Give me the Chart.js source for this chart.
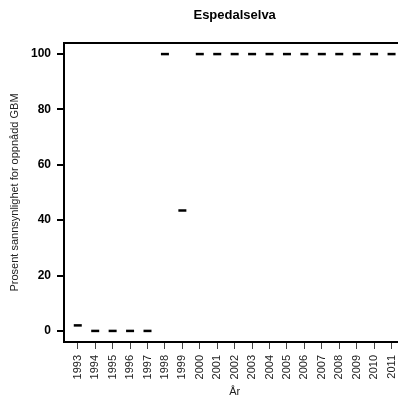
<!DOCTYPE html>
<html>
<head>
<meta charset="utf-8">
<script src="https://cdn.jsdelivr.net/npm/chart.js@4.4.0/dist/chart.umd.min.js"></script>
<style>
  html, body { margin: 0; padding: 0; background: #fff; overflow: hidden; }
  canvas { display: block; }
</style>
</head>
<body>
<canvas id="gbmChart" width="398" height="399"></canvas>
<script>
// Espedalselva - probability of reaching GBM per year

const years = [1993, 1994, 1995, 1996, 1997, 1998, 1999, 2000, 2001, 2002,
               2003, 2004, 2005, 2006, 2007, 2008, 2009, 2010, 2011];
const percent = [2, 0, 0, 0, 0, 100, 43.5, 100, 100, 100,
                 100, 100, 100, 100, 100, 100, 100, 100, 100];
const yTicks = [0, 20, 40, 60, 80, 100];

const chartTitle = 'Espedalselva';
const xTitle = 'År';
const yTitle = 'Prosent sannsynlighet for oppnådd GBM';

// x range: the plot region runs a little past the right edge of the picture
const xMin = 1992.21;
const xMax = 2011.37;
const xCentre = 1992.28 + (2011.72 - 1992.28) / 2;

// titles centred over the full plot region (like base R graphics)
const plotTitles = {
    id: 'plotTitles',
    afterDraw(chart) {
        const ctx = chart.ctx;
        const mid = chart.scales.x.getPixelForValue(xCentre);
        ctx.save();
        ctx.textAlign = 'center';
        ctx.textBaseline = 'middle';
        ctx.font = 'bold 13px "Liberation Sans", Arial, sans-serif';
        ctx.fillStyle = '#000';
        ctx.fillText(chartTitle, mid, 15);
        ctx.font = '11px "Liberation Sans", Arial, sans-serif';
        ctx.fillStyle = '#222';
        ctx.fillText(xTitle, mid, 392);
        ctx.restore();
    }
};

// no extra room for overflowing rotated labels
function noSidePadding(scale) {
    scale.paddingLeft = 0;
    scale.paddingRight = 0;
    scale.paddingTop = 0;
    scale.paddingBottom = 0;
}

function initChart() {
    const ctx = document.getElementById('gbmChart').getContext('2d');

    new Chart(ctx, {
        type: 'scatter',
        data: {
            datasets: [{
                data: years.map((y, i) => ({ x: y, y: percent[i] })),
                pointStyle: 'line',
                pointRadius: 4,
                pointHoverRadius: 4,
                borderWidth: 2.5,
                borderColor: '#000',
                backgroundColor: '#000',
                showLine: false,
                clip: false
            }]
        },
        options: {
            responsive: false,
            animation: false,
            layout: { padding: 0, autoPadding: false },
            plugins: {
                legend: { display: false },
                tooltip: { enabled: false }
            },
            scales: {
                x: {
                    type: 'linear',
                    position: 'bottom',
                    min: xMin,
                    max: xMax,
                    afterBuildTicks: scale => { scale.ticks = years.map(v => ({ value: v })); },
                    afterFit: scale => { scale.height = 57; noSidePadding(scale); },
                    grid: { drawOnChartArea: false, drawTicks: true, tickLength: 7, color: '#444', lineWidth: 1 },
                    border: { display: true, color: '#000', width: 2 },
                    ticks: {
                        autoSkip: false,
                        minRotation: 90,
                        maxRotation: 90,
                        padding: 6,
                        color: '#222',
                        font: { family: '"Liberation Sans", Arial, sans-serif', size: 11 },
                        callback: v => String(v)
                    }
                },
                x2: {
                    type: 'linear',
                    position: 'top',
                    min: xMin,
                    max: xMax,
                    afterFit: scale => { scale.height = 43; noSidePadding(scale); },
                    grid: { display: false },
                    border: { display: true, color: '#000', width: 2 },
                    ticks: { display: false }
                },
                y: {
                    type: 'linear',
                    min: -4,
                    max: 104,
                    afterBuildTicks: scale => { scale.ticks = yTicks.map(v => ({ value: v })); },
                    afterFit: scale => { scale.width = 64; noSidePadding(scale); },
                    grid: { drawOnChartArea: false, drawTicks: true, tickLength: 7, color: '#000', lineWidth: 2 },
                    border: { display: true, color: '#000', width: 2 },
                    ticks: {
                        padding: 6,
                        color: '#000',
                        font: { family: '"Liberation Sans", Arial, sans-serif', size: 12, weight: 'bold' }
                    },
                    title: {
                        display: true,
                        text: yTitle,
                        color: '#222',
                        padding: { top: 8, bottom: 0 },
                        font: { family: '"Liberation Sans", Arial, sans-serif', size: 11 }
                    }
                }
            }
        },
        plugins: [plotTitles]
    });
}

document.addEventListener('DOMContentLoaded', function() {
    if (document.getElementById('gbmChart')) {
        initChart();
    }
});
</script>
</body>
</html>
